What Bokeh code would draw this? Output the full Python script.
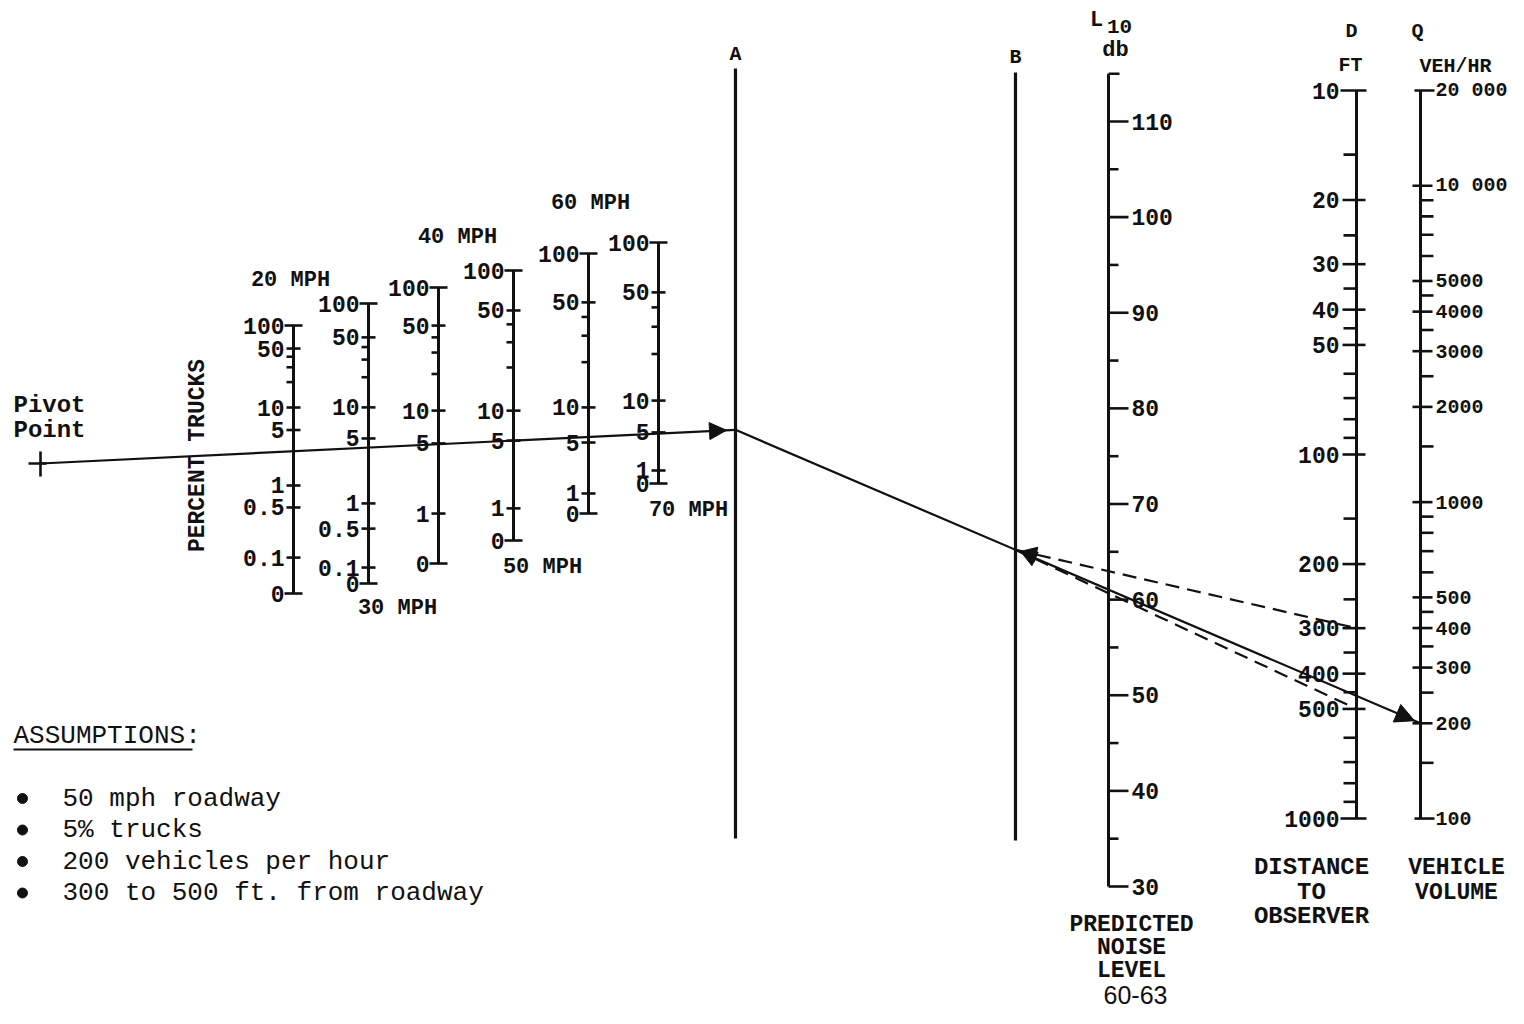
import numpy as np
from bokeh.plotting import figure
from bokeh.models import Range1d, Arrow, NormalHead
from bokeh.core.properties import value
from bokeh.embed import file_html
from bokeh.resources import INLINE

# ---------------- data ----------------
db_major = [110, 100, 90, 80, 70, 60, 50, 40, 30]
db_minor = [105, 95, 85, 75, 65, 55, 45, 35]
db_top = 115

dist_major = [10, 20, 30, 40, 50, 100, 200, 300, 400, 500, 1000]
dist_minor = [15, 25, 35, 45, 60, 70, 80, 90, 150, 250, 350, 450, 600, 700, 800, 900]

vol_major = [20000, 10000, 5000, 4000, 3000, 2000, 1000, 500, 400, 300, 200, 100]
vol_labels = ["20 000", "10 000", "5000", "4000", "3000", "2000", "1000",
              "500", "400", "300", "200", "100"]
vol_minor = [9000, 8000, 7000, 6000, 4500, 3500, 2500, 1500,
             900, 800, 700, 600, 450, 350, 250, 150]

speeds = [20, 30, 40, 50, 60, 70]
trucks_20 = [100, 50, 10, 5, 1, 0.5, 0.1, 0]
trucks_30 = [100, 50, 10, 5, 1, 0.5, 0.1, 0]
trucks_40 = [100, 50, 10, 5, 1, 0]
trucks_50 = [100, 50, 10, 5, 1, 0]
trucks_60 = [100, 50, 10, 5, 1, 0]
trucks_70 = [100, 50, 10, 5, 1, 0]
# graduation of each percent-trucks scale (0 = the 100 % end, 1 = the 0 % end)
grad_20 = [0.0, 0.086, 0.306, 0.39, 0.597, 0.679, 0.866, 1.0]
grad_30 = [0.0, 0.121, 0.371, 0.482, 0.714, 0.804, 0.943, 1.0]
grad_40 = [0.0, 0.138, 0.446, 0.565, 0.819, 1.0]
grad_50 = [0.0, 0.148, 0.519, 0.630, 0.881, 1.0]
grad_60 = [0.0, 0.188, 0.592, 0.727, 0.923, 1.0]
grad_70 = [0.0, 0.207, 0.656, 0.788, 0.946, 1.0]
trucks_minor = [40, 30, 20]

# worked example
ex_speed = 50
ex_trucks = 5
ex_volume = 200
ex_distance = [300, 500]
ex_result = "60-63"

assumptions = ["50 mph roadway", "5% trucks", "200 vehicles per hour",
               "300 to 500 ft. from roadway"]

trucks = [trucks_20, trucks_30, trucks_40, trucks_50, trucks_60, trucks_70]
grads = [grad_20, grad_30, grad_40, grad_50, grad_60, grad_70]

# ---------------- layout ----------------
X_A, X_B = 735, 1015
AB_TOP, AB_BOT = 68, 838
X_DB, X_D, X_Q = 1108, 1356, 1420
PIV = (40, 463)
spd_x = [293, 368, 438, 513, 588, 658]
spd_top = [325, 303, 287, 270, 253, 242]
spd_bot = [593, 583, 563, 540, 513, 483]
spd_lab_x = [290, 397, 457, 542, 590, 688]
spd_lab_y = [280, 608, 237, 567, 203, 510]


def y_db(v):
    return 886 - (v - 30) * 9.5625


def y_dist(v):
    return 90 + 364 * np.log10(v / 10)


def y_vol(v):
    return 90 + 316.4 * np.log10(20000 / v)


def y_truck(i, v):
    vals, g = trucks[i], grads[i]
    if v in vals:
        f = g[vals.index(v)]
    else:
        f50, f10 = g[vals.index(50)], g[vals.index(10)]
        f = f50 + (f10 - f50) * np.log10(50 / v) / np.log10(5)
    return spd_top[i] + f * (spd_bot[i] - spd_top[i])


p = figure(width=1508, height=1008, x_range=Range1d(0, 1508), y_range=Range1d(1008, 0),
           output_backend="svg", toolbar_location=None, min_border=0,
           x_axis_location=None, y_axis_location=None)
p.grid.visible = False
p.outline_line_color = None
p.background_fill_color = "white"
p.border_fill_color = "white"

segs = {}


def seg(group, x0, y0, x1, y1):
    segs.setdefault(group, ([], [], [], []))
    g = segs[group]
    g[0].append(x0); g[1].append(y0); g[2].append(x1); g[3].append(y1)


texts = {}


def txt(style, x, y, s):
    texts.setdefault(style, ([], [], []))
    t = texts[style]
    t[0].append(x); t[1].append(y); t[2].append(s)


MONO = "Liberation Mono"

# A and B lines
seg("heavy", X_A, AB_TOP, X_A, AB_BOT)
seg("heavy", X_B, AB_TOP + 4, X_B, AB_BOT + 2)
txt(("20px", "bold", "center", MONO), X_A, 54, "A")
txt(("20px", "bold", "center", MONO), X_B, 57, "B")

# L10 scale
seg("axis", X_DB, y_db(db_top), X_DB, y_db(30))
seg("tick", X_DB, y_db(db_top), X_DB + 11, y_db(db_top))
for v in db_major:
    seg("tick", X_DB, y_db(v), X_DB + 20, y_db(v))
    txt(("23px", "bold", "left", MONO), X_DB + 23, y_db(v), f"{v}")
for v in db_minor:
    seg("tick", X_DB, y_db(v), X_DB + 10, y_db(v))
txt(("22px", "bold", "center", MONO), 1096, 20, "L")
txt(("21px", "bold", "center", MONO), 1119, 26, "10")
txt(("22px", "bold", "center", MONO), 1115, 50, "db")
for i, s in enumerate(["PREDICTED", "NOISE", "LEVEL"]):
    txt(("23px", "bold", "center", MONO), 1131, 924 + i * 23, s)
txt(("25px", "normal", "center", "Liberation Sans"), 1135, 994, ex_result)

# D scale
seg("axis", X_D, y_dist(10), X_D, y_dist(1000))
for v in dist_major:
    if v in (10, 1000):
        seg("tick", X_D - 16, y_dist(v), X_D + 10, y_dist(v))
    else:
        seg("tick", X_D - 14, y_dist(v), X_D + 9, y_dist(v))
    txt(("23px", "bold", "right", MONO), X_D - 17, y_dist(v), f"{v}")
for v in dist_minor:
    seg("tick", X_D - 13, y_dist(v), X_D, y_dist(v))
txt(("20px", "bold", "center", MONO), 1351, 31, "D")
txt(("20px", "bold", "center", MONO), 1350, 65, "FT")
for i, s in enumerate(["DISTANCE", "TO", "OBSERVER"]):
    txt(("24px", "bold", "center", MONO), 1311, 867 + i * 24.5, s)

# Q scale
seg("axis", X_Q, y_vol(20000), X_Q, y_vol(100))
for v, s in zip(vol_major, vol_labels):
    if v in (20000, 100):
        seg("tick", X_Q - 6, y_vol(v), X_Q + 14, y_vol(v))
    else:
        seg("tick", X_Q - 8, y_vol(v), X_Q + 12, y_vol(v))
    txt(("20px", "bold", "left", MONO), X_Q + 15, y_vol(v), s)
for v in vol_minor:
    seg("tick", X_Q, y_vol(v), X_Q + 13, y_vol(v))
txt(("20px", "bold", "center", MONO), 1417, 31, "Q")
txt(("20px", "bold", "center", MONO), 1455, 66, "VEH/HR")
txt(("23px", "bold", "center", MONO), 1456, 867, "VEHICLE")
txt(("23px", "bold", "center", MONO), 1456, 892, "VOLUME")

# percent-truck scales
for i, spd in enumerate(speeds):
    x = spd_x[i]
    seg("axis", x, spd_top[i], x, spd_bot[i])
    for v in trucks[i]:
        y = y_truck(i, v)
        if v in (100, 0):
            seg("tick", x - 9, y, x + 9, y)
        else:
            seg("tick", x - 7, y, x + 7, y)
        txt(("23px", "bold", "right", MONO), x - 9, y, f"{v:g}")
    for v in trucks_minor:
        y = y_truck(i, v)
        seg("tick", x - 7, y, x, y)
    txt(("22px", "bold", "center", MONO), spd_lab_x[i], spd_lab_y[i], f"{spd} MPH")

p.text(x=[197], y=[455], text=["PERCENT TRUCKS"], angle=np.pi / 2,
       text_font=value(MONO), text_font_style="bold", text_font_size="23px",
       text_align="center", text_baseline="middle", text_color="#111111")

# pivot point
seg("tick", PIV[0] - 12, PIV[1], PIV[0] + 6, PIV[1])
seg("tick", PIV[0], PIV[1] - 12, PIV[0], PIV[1] + 13)
txt(("24px", "bold", "left", MONO), 13, 405, "Pivot")
txt(("24px", "bold", "left", MONO), 13, 430, "Point")

# ---------------- worked example ----------------
i_ex = speeds.index(ex_speed)
p_tr = (spd_x[i_ex], y_truck(i_ex, ex_trucks))
slope1 = (p_tr[1] - PIV[1]) / (p_tr[0] - PIV[0])
a_pt = (X_A, PIV[1] + slope1 * (X_A - PIV[0]))
q_pt = (X_Q, y_vol(ex_volume))
slope2 = (q_pt[1] - a_pt[1]) / (q_pt[0] - a_pt[0])
b_pt = (X_B, a_pt[1] + slope2 * (X_B - a_pt[0]))

p.line([PIV[0], a_pt[0]], [PIV[1], a_pt[1]], line_width=2.2, color="#111111")
p.line([a_pt[0], q_pt[0]], [a_pt[1], q_pt[1]], line_width=2.2, color="#111111")


def on_line(p0, p1, x):
    return p0[1] + (p1[1] - p0[1]) * (x - p0[0]) / (p1[0] - p0[0])


def head(p0, p1, x_tip, x_back, size):
    p.add_layout(Arrow(end=NormalHead(size=size, fill_color="#111111", line_color="#111111"),
                       x_start=x_back, y_start=on_line(p0, p1, x_back),
                       x_end=x_tip, y_end=on_line(p0, p1, x_tip), line_alpha=0))


head(PIV, a_pt, 726, 690, 17)
head(a_pt, q_pt, 1414, 1380, 19)

for d in ex_distance:
    d_pt = (X_D, y_dist(d))
    p.line([b_pt[0], d_pt[0]], [b_pt[1], d_pt[1]], line_width=2.2, color="#111111",
           line_dash="14 8")
    head(b_pt, d_pt, 1021, 1050, 15)

# draw segment groups
styles = {"heavy": 3.2, "axis": 3.0, "tick": 2.6}
for g, (x0, y0, x1, y1) in segs.items():
    p.segment(x0=x0, y0=y0, x1=x1, y1=y1, line_width=styles[g], color="#111111")

for (size, weight, align, font), (xs, ys, ss) in texts.items():
    p.text(x=xs, y=ys, text=ss, text_font=value(font), text_font_style=weight,
           text_font_size=size, text_align=align, text_baseline="middle",
           text_color="#111111")

# assumptions
p.text(x=[13], y=[735], text=["ASSUMPTIONS:"], text_font=value(MONO),
       text_font_size="26px", text_align="left", text_baseline="middle", text_color="#111111")
p.segment(x0=[13], y0=[749], x1=[192], y1=[749], line_width=2, color="#111111")
ay = [798 + k * 31.5 for k in range(len(assumptions))]
p.scatter(x=[22] * len(assumptions), y=ay, size=10, color="#111111")
p.text(x=[62] * len(assumptions), y=ay, text=assumptions, text_font=value(MONO),
       text_font_size="26px", text_align="left", text_baseline="middle", text_color="#111111")

open("out.html", "w").write(file_html(p, INLINE))
